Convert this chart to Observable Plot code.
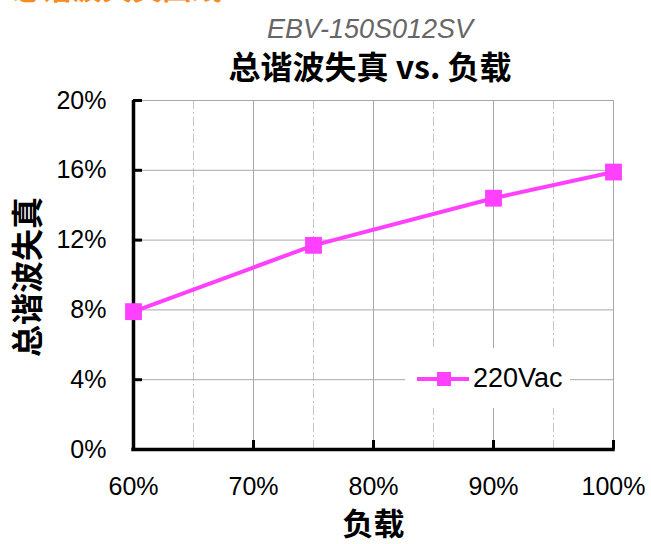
<!DOCTYPE html>
<html><head><meta charset="utf-8">
<script src="https://cdn.jsdelivr.net/npm/d3@7"></script>
<script src="https://cdn.jsdelivr.net/npm/@observablehq/plot@0.6"></script>
<style>
body{margin:0;background:#fff;}
#wrap{position:relative;width:651px;height:544px;overflow:hidden;background:#fff;font-family:"Liberation Sans",Arial,"Noto Sans CJK SC",sans-serif;}
#hdr{position:absolute;left:12px;top:-29px;font-size:30px;line-height:30px;font-weight:bold;color:#f98a1c;font-family:"Noto Sans CJK SC",sans-serif;white-space:nowrap;}
#sub{position:absolute;left:170px;width:400px;top:16px;text-align:center;font-size:27px;line-height:27px;font-style:italic;color:#666;}
#title{position:absolute;left:120px;width:500px;top:49px;text-align:center;font-size:32px;line-height:32px;font-weight:bold;color:#000;white-space:nowrap;font-family:"Noto Sans CJK SC","Liberation Sans",sans-serif;}
#chart{position:absolute;left:0;top:90px;}
#legend{position:absolute;left:405px;top:348px;width:165px;height:60px;background:#fff;}
#legend svg{position:absolute;left:0;top:0;}
#legend span{position:absolute;left:68px;top:17px;font-size:27px;line-height:27px;color:#000;}
</style></head><body>
<div id="wrap">
  <div id="hdr"></div>
  <div id="sub"></div>
  <div id="title"></div>
  <div id="chart"></div>
  <div id="legend"></div>
</div>
<script>
const headerText = "总谐波失真曲线";
const subtitleText = "EBV-150S012SV";
const titleText = "总谐波失真 vs. 负载";
const xLabel = "负载";
const yLabel = "总谐波失真";
const seriesName = "220Vac";
const loads = [60, 75, 90, 100];
const thd = [7.9, 11.7, 14.4, 15.9];
const xTicks = [60, 70, 80, 90, 100];
const xMinorTicks = [65, 75, 85, 95];
const yTicks = [0, 4, 8, 12, 16, 20];

const color = "#ff40ff";
const data = loads.map((x, i) => ({x, y: thd[i]}));

document.getElementById("hdr").textContent = headerText;
document.getElementById("sub").textContent = subtitleText;
document.getElementById("title").textContent = titleText;

const W = 651, H = 454, mT = 10, mB = 95, mL = 133, mR = 38;
const pw = W - mL - mR, ph = H - mT - mB;

const chart = Plot.plot({
  width: W, height: H,
  marginTop: mT, marginBottom: mB, marginLeft: mL, marginRight: mR,
  style: {fontFamily: '"Liberation Sans", Arial, "Noto Sans CJK SC", sans-serif', background: "#fff", overflow: "visible"},
  x: {domain: [60, 100]},
  y: {domain: [0, 20]},
  marks: [
    Plot.ruleX(xMinorTicks, {x: d => d, stroke: "#c4c4c4", strokeWidth: 1, strokeDasharray: "9,3,2,3"}),
    Plot.ruleX(xTicks.slice(1), {x: d => d, stroke: "#a8a8a8", strokeWidth: 1}),
    Plot.ruleY(yTicks.slice(1), {y: d => d, stroke: "#a8a8a8", strokeWidth: 1}),
    Plot.ruleX([xTicks[0]], {x: d => d, stroke: "#000", strokeWidth: 3.5}),
    Plot.ruleY([yTicks[0]], {y: d => d, stroke: "#000", strokeWidth: 3.5, strokeLinecap: "square"}),
    Plot.tickX(xTicks.slice(1), {x: d => d, insetTop: ph - 9, stroke: "#000", strokeWidth: 3}),
    Plot.tickY(yTicks.slice(1), {y: d => d, insetRight: pw - 9, stroke: "#000", strokeWidth: 3}),
    Plot.line(data, {x: "x", y: "y", stroke: color, strokeWidth: 4}),
    Plot.dot(data, {x: "x", y: "y", symbol: "square", r: 9.5, fill: color, stroke: "none"}),
    Plot.axisX({ticks: xTicks, tickSize: 0, tickPadding: 28, tickFormat: d => d + "%", fontSize: 25, label: null, color: "#000"}),
    Plot.axisY({ticks: yTicks, tickSize: 0, tickPadding: 27, tickFormat: d => d + "%", fontSize: 25, label: null, color: "#000"}),
    Plot.text([yLabel], {frameAnchor: "left", textAnchor: "middle", lineAnchor: "middle", dx: -105, dy: 2, rotate: -90, fontSize: 32, fontWeight: "bold", fill: "#000", fontFamily: '"Noto Sans CJK SC", sans-serif'}),
    Plot.text([xLabel], {frameAnchor: "bottom", textAnchor: "middle", lineAnchor: "middle", dy: 76, fontSize: 31, fontWeight: "bold", fill: "#000", fontFamily: '"Noto Sans CJK SC", sans-serif'})
  ]
});
document.getElementById("chart").appendChild(chart);

// legend
const lg = document.getElementById("legend");
const ls = d3.create("svg").attr("width", 66).attr("height", 60);
ls.append("line").attr("x1", 12).attr("x2", 64).attr("y1", 31).attr("y2", 31).attr("stroke", color).attr("stroke-width", 4);
ls.append("rect").attr("x", 32).attr("y", 24).attr("width", 14).attr("height", 14).attr("fill", color);
lg.appendChild(ls.node());
const sp = document.createElement("span");
sp.textContent = seriesName;
lg.appendChild(sp);
</script>
</body></html>
